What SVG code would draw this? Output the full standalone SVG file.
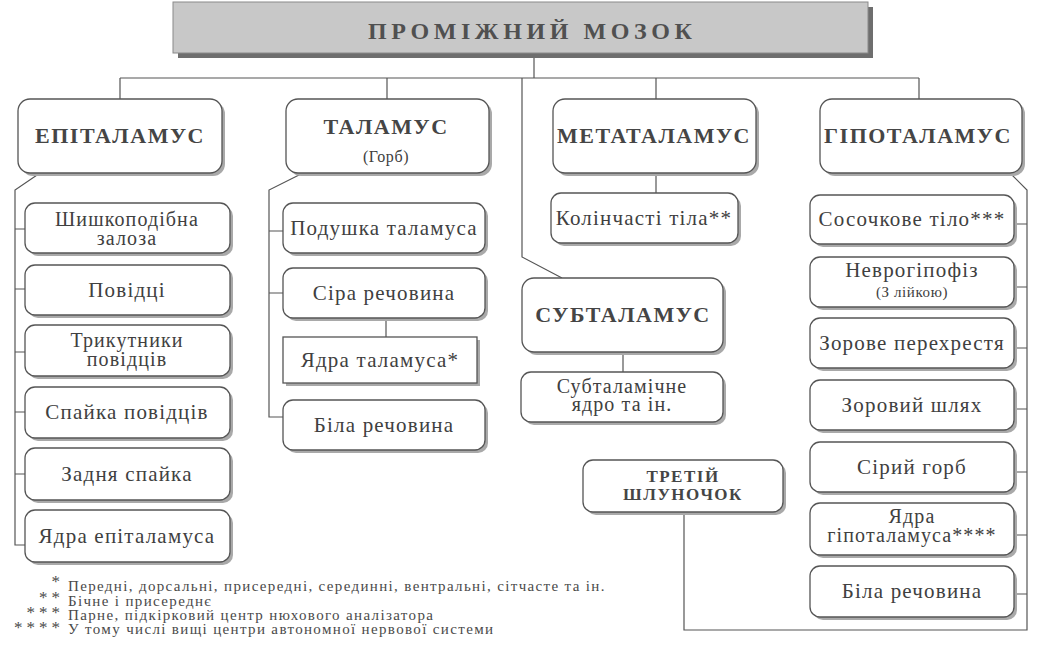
<svg xmlns="http://www.w3.org/2000/svg" width="1044" height="652" viewBox="0 0 1044 652">
<style>
.bg{fill:#ffffff}
.sh{fill:#a9a9a9}
.box{fill:#ffffff;stroke:#555555;stroke-width:1.3}
.c{fill:none;stroke:#555555;stroke-width:1.2}
.t{font-family:"Liberation Serif","Times New Roman",serif;font-size:21px;fill:#404040;text-anchor:middle;letter-spacing:1.2px}
.t2{font-family:"Liberation Serif","Times New Roman",serif;font-size:20px;fill:#404040;text-anchor:middle;letter-spacing:1.1px}
.h{font-family:"Liberation Serif","Times New Roman",serif;font-size:22px;font-weight:bold;fill:#454545;text-anchor:middle;letter-spacing:1.5px}
.s{font-family:"Liberation Serif","Times New Roman",serif;font-size:16px;fill:#404040;text-anchor:middle;letter-spacing:0.6px}
.f{font-family:"Liberation Serif","Times New Roman",serif;font-size:15px;fill:#4a4a4a;letter-spacing:1.35px}
.fa{font-family:"Liberation Serif","Times New Roman",serif;font-size:17px;fill:#4a4a4a;text-anchor:end;letter-spacing:4px}
</style>
<rect class="bg" x="0" y="0" width="1044" height="652"/>

<g id="connectors">
  <path class="c" d="M534,53 V78"/>
  <path class="c" d="M120,78 H919"/>
  <path class="c" d="M120,78 V99 M387,78 V99 M656,78 V99 M919,78 V99"/>
  <path class="c" d="M522,78 V257 L562,278"/>
  <path class="c" d="M656,173 V193"/>
  <path class="c" d="M623,352 V372"/>
  <path class="c" d="M40,173 L15,190 V545 H25"/>
  <path class="c" d="M15,229 H25 M15,289 H25 M15,352 H25 M15,412 H25 M15,474 H25"/>
  <path class="c" d="M303,173 L269,190 V417 H283"/>
  <path class="c" d="M269,231 H283 M269,293 H283"/>
  <path class="c" d="M386,318 V337"/>
  <path class="c" d="M1010,173 L1027,190 V630 H684 V512"/>
  <path class="c" d="M1014,224 H1027 M1014,287 H1027 M1014,348 H1027 M1014,409 H1027 M1014,472 H1027 M1014,535 H1027 M1014,594 H1027"/>
</g>

<g id="title">
  <rect x="178" y="7" width="695" height="51" fill="#6e6e6e"/>
  <rect x="173" y="2" width="695" height="51" fill="#c8c8c8" stroke="#8a8a8a" stroke-width="1"/>
  <text x="530" y="39" textLength="324" lengthAdjust="spacing" style="font-family:'Liberation Serif','Times New Roman',serif;font-size:24px;font-weight:bold;fill:#505050;text-anchor:middle">ПРОМІЖНИЙ МОЗОК</text>
</g>

<g id="epitalamus">
  <rect class="sh" x="21" y="102" width="204" height="74" rx="12"/>
  <rect class="box" x="18" y="99" width="204" height="74" rx="12"/>
  <text class="h" x="120" y="143">ЕПІТАЛАМУС</text>
</g>
<g id="talamus">
  <rect class="sh" x="289" y="102" width="203" height="74" rx="12"/>
  <rect class="box" x="286" y="99" width="203" height="74" rx="12"/>
  <text class="h" x="386" y="134">ТАЛАМУС</text>
  <text class="s" x="386" y="162">(Горб)</text>
</g>
<g id="metatalamus">
  <rect class="sh" x="556" y="102" width="203" height="74" rx="12"/>
  <rect class="box" x="553" y="99" width="203" height="74" rx="12"/>
  <text class="h" x="654" y="143">МЕТАТАЛАМУС</text>
</g>
<g id="hipotalamus">
  <rect class="sh" x="823" y="102" width="202" height="74" rx="12"/>
  <rect class="box" x="820" y="99" width="202" height="74" rx="12"/>
  <text class="h" x="918" y="143">ГІПОТАЛАМУС</text>
</g>

<g id="epi-1">
  <rect class="sh" x="28" y="206" width="205" height="50" rx="10"/>
  <rect class="box" x="25" y="203" width="205" height="50" rx="10"/>
  <text class="t2" x="127" y="226">Шишкоподібна</text>
  <text class="t2" x="127" y="245">залоза</text>
</g>
<g id="epi-2">
  <rect class="sh" x="28" y="268" width="205" height="50" rx="10"/>
  <rect class="box" x="25" y="265" width="205" height="50" rx="10"/>
  <text class="t" x="127" y="297">Повідці</text>
</g>
<g id="epi-3">
  <rect class="sh" x="28" y="328" width="205" height="51" rx="10"/>
  <rect class="box" x="25" y="325" width="205" height="51" rx="10"/>
  <text class="t2" x="127" y="347">Трикутники</text>
  <text class="t2" x="127" y="366">повідців</text>
</g>
<g id="epi-4">
  <rect class="sh" x="28" y="390" width="205" height="51" rx="10"/>
  <rect class="box" x="25" y="387" width="205" height="51" rx="10"/>
  <text class="t" x="127" y="419">Спайка повідців</text>
</g>
<g id="epi-5">
  <rect class="sh" x="28" y="451" width="205" height="52" rx="10"/>
  <rect class="box" x="25" y="448" width="205" height="52" rx="10"/>
  <text class="t" x="127" y="481">Задня спайка</text>
</g>
<g id="epi-6">
  <rect class="sh" x="28" y="513" width="205" height="52" rx="10"/>
  <rect class="box" x="25" y="510" width="205" height="52" rx="10"/>
  <text class="t" x="127" y="543">Ядра епіталамуса</text>
</g>

<g id="tal-1">
  <rect class="sh" x="286" y="206" width="202" height="50" rx="10"/>
  <rect class="box" x="283" y="203" width="202" height="50" rx="10"/>
  <text class="t" x="384" y="235">Подушка таламуса</text>
</g>
<g id="tal-2">
  <rect class="sh" x="286" y="271" width="202" height="50" rx="10"/>
  <rect class="box" x="283" y="268" width="202" height="50" rx="10"/>
  <text class="t" x="384" y="300">Сіра речовина</text>
</g>
<g id="tal-3">
  <rect class="sh" x="286" y="340" width="194" height="46"/>
  <rect class="box" x="283" y="337" width="194" height="46"/>
  <text class="t" x="380" y="367">Ядра таламуса*</text>
</g>
<g id="tal-4">
  <rect class="sh" x="286" y="403" width="202" height="50" rx="10"/>
  <rect class="box" x="283" y="400" width="202" height="50" rx="10"/>
  <text class="t" x="384" y="432">Біла речовина</text>
</g>

<g id="meta-1">
  <rect class="sh" x="554" y="196" width="187" height="50" rx="10"/>
  <rect class="box" x="551" y="193" width="187" height="50" rx="10"/>
  <text class="t" x="644" y="225">Колінчасті тіла**</text>
</g>

<g id="subtalamus">
  <rect class="sh" x="525" y="281" width="201" height="74" rx="12"/>
  <rect class="box" x="522" y="278" width="201" height="74" rx="12"/>
  <text class="h" x="623" y="322">СУБТАЛАМУС</text>
</g>
<g id="sub-1">
  <rect class="sh" x="524" y="375" width="202" height="50" rx="10"/>
  <rect class="box" x="521" y="372" width="202" height="50" rx="10"/>
  <text class="t2" x="622" y="393">Субталамічне</text>
  <text class="t2" x="622" y="411">ядро та ін.</text>
</g>

<g id="third-ventricle">
  <rect class="sh" x="586" y="463" width="200" height="52" rx="10"/>
  <rect class="box" x="583" y="460" width="200" height="52" rx="10"/>
  <text class="h" x="683" y="482" style="font-size:17px;letter-spacing:1.5px">ТРЕТІЙ</text>
  <text class="h" x="683" y="500" style="font-size:17px;letter-spacing:1.5px">ШЛУНОЧОК</text>
</g>

<g id="hipo-1">
  <rect class="sh" x="813" y="198" width="204" height="49" rx="10"/>
  <rect class="box" x="810" y="195" width="204" height="49" rx="10"/>
  <text class="t" x="912" y="226">Сосочкове тіло***</text>
</g>
<g id="hipo-2">
  <rect class="sh" x="813" y="260" width="204" height="50" rx="10"/>
  <rect class="box" x="810" y="257" width="204" height="50" rx="10"/>
  <text class="t" x="912" y="277">Неврогіпофіз</text>
  <text class="s" x="912" y="297" style="font-size:15px">(З лійкою)</text>
</g>
<g id="hipo-3">
  <rect class="sh" x="813" y="321" width="204" height="50" rx="10"/>
  <rect class="box" x="810" y="318" width="204" height="50" rx="10"/>
  <text class="t" x="912" y="350">Зорове перехрестя</text>
</g>
<g id="hipo-4">
  <rect class="sh" x="813" y="383" width="204" height="50" rx="10"/>
  <rect class="box" x="810" y="380" width="204" height="50" rx="10"/>
  <text class="t" x="912" y="412">Зоровий шлях</text>
</g>
<g id="hipo-5">
  <rect class="sh" x="813" y="445" width="204" height="50" rx="10"/>
  <rect class="box" x="810" y="442" width="204" height="50" rx="10"/>
  <text class="t" x="912" y="474">Сірий горб</text>
</g>
<g id="hipo-6">
  <rect class="sh" x="813" y="506" width="204" height="52" rx="10"/>
  <rect class="box" x="810" y="503" width="204" height="52" rx="10"/>
  <text class="t2" x="912" y="523">Ядра</text>
  <text class="t2" x="912" y="542">гіпоталамуса****</text>
</g>
<g id="hipo-7">
  <rect class="sh" x="813" y="569" width="204" height="51" rx="10"/>
  <rect class="box" x="810" y="566" width="204" height="51" rx="10"/>
  <text class="t" x="912" y="598">Біла речовина</text>
</g>

<g id="footnotes">
  <text class="fa" x="64" y="587">*</text>
  <text class="f" x="68" y="591">Передні, дорсальні, присередні, серединні, вентральні, сітчасте та ін.</text>
  <text class="fa" x="64" y="603">**</text>
  <text class="f" x="68" y="606">Бічне і присереднє</text>
  <text class="fa" x="64" y="618">***</text>
  <text class="f" x="68" y="620">Парне, підкірковий центр нюхового аналізатора</text>
  <text class="fa" x="64" y="633">****</text>
  <text class="f" x="68" y="634">У тому числі вищі центри автономної нервової системи</text>
</g>
</svg>
